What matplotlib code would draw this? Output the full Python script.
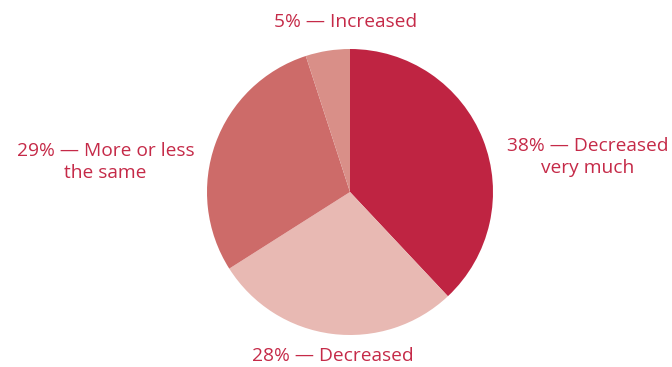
import matplotlib.pyplot as plt

# data
labels = ["38% \u2014 Decreased\nvery much", "28% \u2014 Decreased",
          "29% \u2014 More or less\nthe same", "5% \u2014 Increased"]
values = [38, 28, 29, 5]
colors = ["#BF2442", "#E8B9B3", "#CD6B69", "#D98F88"]

text_color = "#C52A48"
plt.rcParams["font.family"] = ["Open Sans", "DejaVu Sans"]

fig = plt.figure(figsize=(6.72, 3.67), dpi=100)
W, H = 672, 367
cx, cy, r = 350, 192, 143
ax = fig.add_axes([(cx - r) / W, (H - cy - r) / H, 2 * r / W, 2 * r / H])

ax.pie(values, colors=colors, startangle=90, counterclock=False,
       radius=1, wedgeprops=dict(linewidth=0))
ax.set_xlim(-1, 1)
ax.set_ylim(-1, 1)
ax.set_aspect("equal")
ax.axis("off")

# label positions (data coords, radius = 1)
pos = [(1.66, 0.245), (-0.12, -1.15), (-1.71, 0.21), (-0.03, 1.19)]
for lab, (x, y) in zip(labels, pos):
    ax.text(x, y, lab, ha="center", va="center", fontsize=13.8,
            color=text_color, linespacing=1.3, clip_on=False)

fig.savefig("out.png", dpi=100)
